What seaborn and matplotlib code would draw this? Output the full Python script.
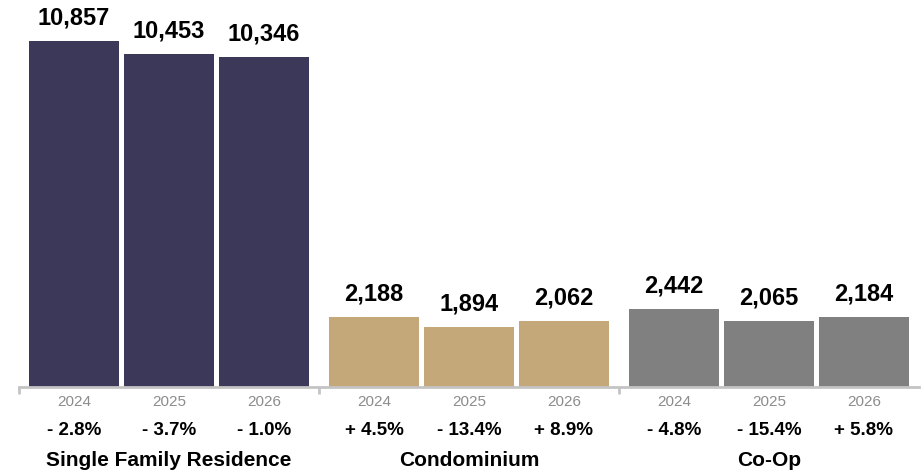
import matplotlib
matplotlib.use("Agg")
import matplotlib.pyplot as plt
import pandas as pd
import seaborn as sns

# data
categories = ["Single Family Residence", "Condominium", "Co-Op"]
years = ["2024", "2025", "2026"]
sfr_values = [10857, 10453, 10346]
condo_values = [2188, 1894, 2062]
coop_values = [2442, 2065, 2184]
sfr_change = ["- 2.8%", "- 3.7%", "- 1.0%"]
condo_change = ["+ 4.5%", "- 13.4%", "+ 8.9%"]
coop_change = ["- 4.8%", "- 15.4%", "+ 5.8%"]

colors = ["#3b3859", "#c4a87a", "#808080"]

rows = []
for cat, vals, chg in zip(categories,
                          [sfr_values, condo_values, coop_values],
                          [sfr_change, condo_change, coop_change]):
    for yr, v, c in zip(years, vals, chg):
        rows.append({"type": cat, "year": yr, "value": v, "change": c})
df = pd.DataFrame(rows)

sns.set_style("white")
plt.rcParams["font.family"] = ["Liberation Sans", "DejaVu Sans"]

fig = plt.figure(figsize=(9.24, 4.74), dpi=100)
ax = fig.add_axes([19 / 924, 87 / 474, 900 / 924, 387 / 474])

sns.barplot(data=df, x="type", y="value", hue="year", order=categories,
            hue_order=years, width=0.95, gap=0.053, legend=False, ax=ax,
            saturation=1)

# recolour each bar by its category, and label it
for yr, container in zip(years, ax.containers):
    for cat, col, bar in zip(categories, colors, container):
        bar.set_facecolor(col)
        bar.set_edgecolor("none")
        row = df[(df["type"] == cat) & (df["year"] == yr)].iloc[0]
        xc = bar.get_x() + bar.get_width() / 2
        ax.annotate(f"{row['value']:,}", (xc, bar.get_height()),
                    xytext=(0, 12), textcoords="offset points",
                    ha="center", va="baseline", fontsize=17,
                    fontweight="bold", color="black")
        ax.annotate(yr, (xc, 0), xycoords=("data", "axes fraction"),
                    xytext=(0, -11), textcoords="offset points",
                    ha="center", va="center", fontsize=11, color="#8c8c8c")
        ax.annotate(row["change"], (xc, 0), xycoords=("data", "axes fraction"),
                    xytext=(0, -31), textcoords="offset points",
                    ha="center", va="center", fontsize=13.5,
                    fontweight="bold", color="black")

for i, cat in enumerate(categories):
    ax.annotate(cat, (i, 0), xycoords=("data", "axes fraction"),
                xytext=(0, -53), textcoords="offset points",
                ha="center", va="center", fontsize=15, fontweight="bold",
                color="black")

ax.set_xlim(-0.5, 2.5)
ax.set_ylim(0, 12150)
ax.set_xticks([-0.5, 0.5, 1.5])
ax.set_xticklabels([])
ax.set_yticks([])
ax.set_xlabel("")
ax.set_ylabel("")
ax.tick_params(axis="x", bottom=True, length=5, width=2, color="#c4c4c4")
for s in ["left", "top", "right"]:
    ax.spines[s].set_visible(False)
ax.spines["bottom"].set_color("#c4c4c4")
ax.spines["bottom"].set_linewidth(2)

fig.savefig("out.png", dpi=100)
